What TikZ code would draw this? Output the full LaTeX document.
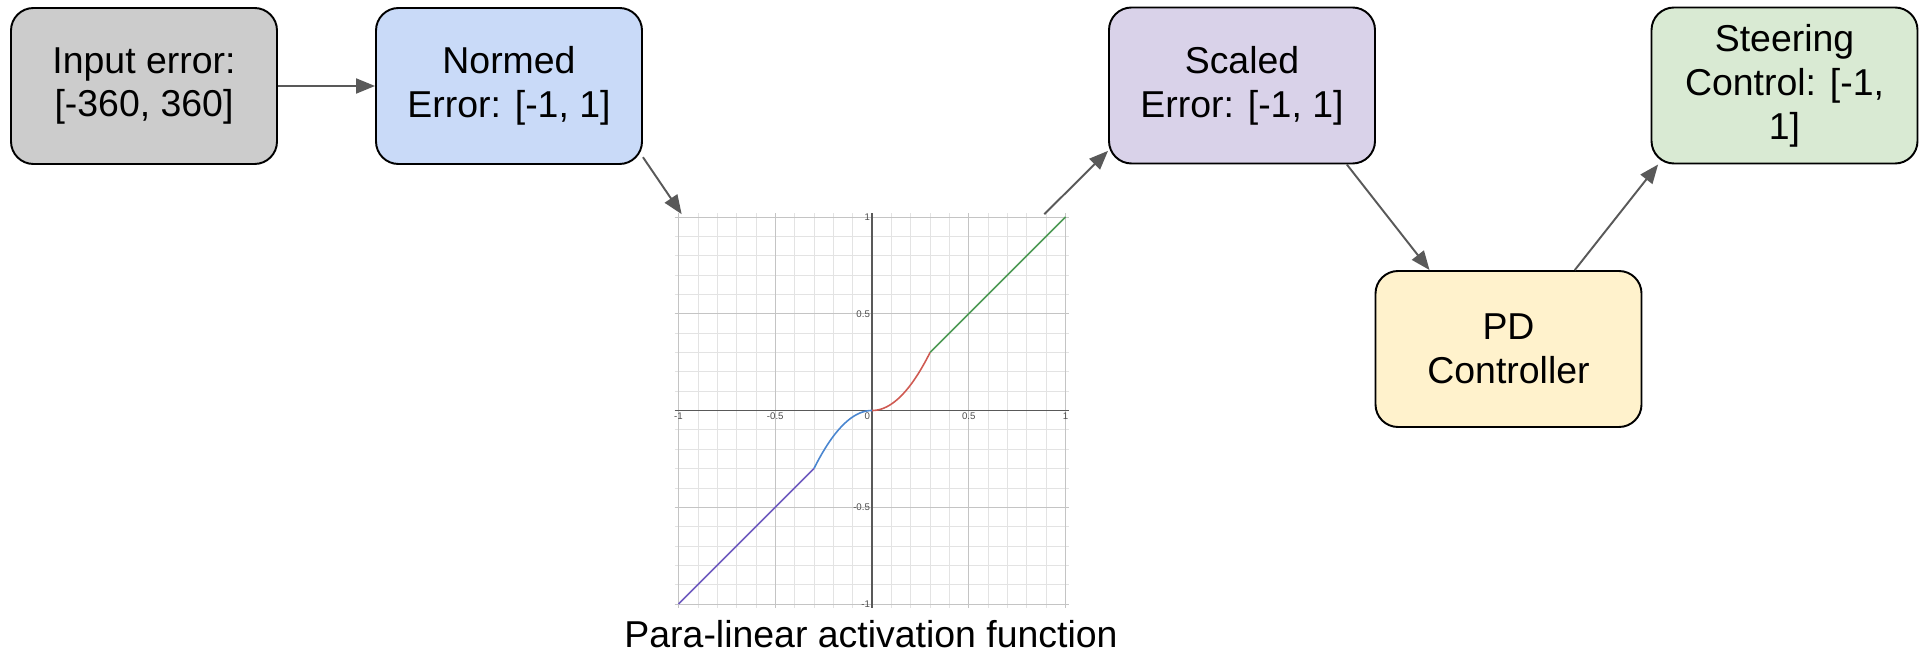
\documentclass[tikz,border=0pt]{standalone}
\usepackage{fontspec}
\setmainfont{Liberation Sans}
\usetikzlibrary{positioning,arrows.meta}
\definecolor{boxgrey}{HTML}{CCCCCC}
\definecolor{boxblue}{HTML}{C9DAF8}
\definecolor{boxpurple}{HTML}{D9D2E9}
\definecolor{boxgreen}{HTML}{D9EAD3}
\definecolor{boxyellow}{HTML}{FFF2CC}
\definecolor{arrgrey}{HTML}{595959}
\definecolor{gridminor}{HTML}{E3E3E3}
\definecolor{gridmajor}{HTML}{C4C4C4}
\definecolor{plotpurple}{HTML}{6F5CC0}
\definecolor{plotblue}{HTML}{4A86D0}
\definecolor{plotred}{HTML}{CF5A52}
\definecolor{plotgreen}{HTML}{4E9A55}

\begin{document}
\begin{tikzpicture}[
    BX/.style={rectangle, rounded corners=0.45cm, draw=black, line width=1.1pt,
      font=\fontsize{21.3}{25}\selectfont, align=center,
      minimum width=5.32cm, minimum height=3.12cm},
    arr/.style={-{Triangle[length=0.38cm,width=0.3cm]}, line width=1.1pt, color=arrgrey},
    ticklbl/.style={font=\fontsize{5.5}{6}\selectfont, text=black!70, inner sep=1pt}
  ]
    \useasboundingbox (0,0) rectangle (38.6,-13.2);

    %% Boxes (top row)
    \node[BX, fill=boxgrey] (inp) at (2.88,-1.72) {Input error:\\{}[-360, 360]};
    \node[BX, fill=boxblue] (norm) at (10.18,-1.72) {Normed\\Error: [-1, 1]};
    \node[BX, fill=boxpurple] (scal) at (24.84,-1.71) {Scaled\\Error: [-1, 1]};
    \node[BX, fill=boxgreen] (steer) at (35.69,-1.71) {Steering\\Control: [-1,\\1]};

    %% PD (lower right)
    \node[BX, fill=boxyellow] (pd) at (30.17,-6.98) {PD\\Controller};

    %% Plot (centre)
    \node[minimum width=7.84cm, minimum height=7.84cm, inner sep=0pt] (plot) at (17.44,-8.21) {};
    \begin{scope}[shift={(plot.center)}, x=3.87cm, y=3.87cm]
      \foreach \i in {-10,...,10}
        \draw[gridminor, line width=0.4pt] (\i/10,-1.02) -- (\i/10,1.02)
                                           (-1.02,\i/10) -- (1.02,\i/10);
      \foreach \i in {-1,-0.5,0.5,1}
        \draw[gridmajor, line width=0.5pt] (\i,-1.02) -- (\i,1.02)
                                           (-1.02,\i) -- (1.02,\i);
      \draw[black!65, line width=0.6pt] (-1.02,0) -- (1.02,0) (0,-1.02) -- (0,1.02);

      \draw[plotpurple, line width=0.9pt] (-1,-1) -- (-0.3,-0.3);
      \draw[plotblue, line width=0.9pt, domain=-0.3:0, samples=40] plot (\x,{-\x*\x/0.3});
      \draw[plotred, line width=0.9pt, domain=0:0.3, samples=40] plot (\x,{\x*\x/0.3});
      \draw[plotgreen, line width=0.9pt] (0.3,0.3) -- (1,1);

      \foreach \v in {-1,-0.5,0.5,1}
        \node[ticklbl, below] at (\v,0) {\v};
      \node[ticklbl, below left] at (0,0) {0};
      \foreach \v in {-1,-0.5,0.5,1}
        \node[ticklbl, left] at (0,\v) {\v};
    \end{scope}
    \node[font=\fontsize{21.3}{25}\selectfont, anchor=base] (cap) at (17.42,-12.94)
      {Para-linear activation function};

    %% Arrows
    \draw[arr] (inp.east) -- (norm.west);
    \draw[arr] (norm.-28) -- ([xshift=0.12cm]plot.north west);
    \draw[arr] ([xshift=-0.48cm]plot.north east) -- (scal.206.6);
    \draw[arr] (scal.-37) -- (pd.135);
    \draw[arr] (pd.50.6) -- (steer.212);
  \end{tikzpicture}
\end{document}
